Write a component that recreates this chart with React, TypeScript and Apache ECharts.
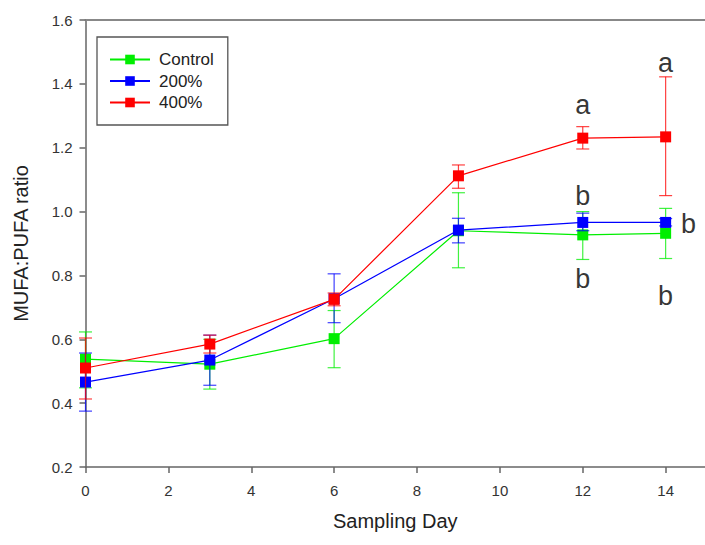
import React, { useEffect, useRef } from "react";
import * as echarts from "echarts";

const days = [0, 3, 6, 9, 12, 14];

const controlMean = [0.538, 0.522, 0.602, 0.94, 0.927, 0.932];
const controlLow = [0.448, 0.444, 0.511, 0.824, 0.85, 0.853];
const controlHigh = [0.623, 0.6, 0.69, 1.059, 1.0, 1.01];

const p200Mean = [0.466, 0.535, 0.727, 0.942, 0.966, 0.966];
const p200Low = [0.375, 0.456, 0.652, 0.902, 0.94, 0.955];
const p200High = [0.557, 0.613, 0.805, 0.979, 0.995, 0.978];

const p400Mean = [0.51, 0.585, 0.725, 1.112, 1.23, 1.234];
const p400Low = [0.413, 0.557, 0.705, 1.073, 1.196, 1.05];
const p400High = [0.604, 0.613, 0.745, 1.146, 1.266, 1.422];

const letterX = [12, 14, 12, 14.55, 12, 14];
const letterY = [1.334, 1.465, 1.05, 0.962, 0.79, 0.735];
const letterText = ["a", "a", "b", "b", "b", "b"];

const yTicks = [0.2, 0.4, 0.6, 0.8, 1.0, 1.2, 1.4, 1.6];
const xTicks = [0, 2, 4, 6, 8, 10, 12, 14];

const FONT = "Liberation Sans, Arial, sans-serif";

const seriesDefs = [
  { name: "Control", color: "#00ee00", mean: controlMean, low: controlLow, high: controlHigh },
  { name: "200%", color: "#0000ff", mean: p200Mean, low: p200Low, high: p200High },
  { name: "400%", color: "#ff0000", mean: p400Mean, low: p400Low, high: p400High },
];

function errorBarSeries(def: typeof seriesDefs[number], z: number) {
  return {
    type: "custom",
    name: def.name + " err",
    z,
    silent: true,
    data: days.map((d, i) => [d, def.low[i], def.high[i]]),
    renderItem: (params: any, api: any) => {
      const x = api.value(0);
      const lo = api.coord([x, api.value(1)]);
      const hi = api.coord([x, api.value(2)]);
      const half = 6.5;
      const style = { stroke: def.color, lineWidth: 1.2, opacity: 0.75 };
      return {
        type: "group",
        children: [
          { type: "line", shape: { x1: lo[0], y1: lo[1], x2: hi[0], y2: hi[1] }, style },
          { type: "line", shape: { x1: lo[0] - half, y1: lo[1], x2: lo[0] + half, y2: lo[1] }, style },
          { type: "line", shape: { x1: hi[0] - half, y1: hi[1], x2: hi[0] + half, y2: hi[1] }, style },
        ],
      };
    },
  };
}

export default function App() {
  const ref = useRef<HTMLDivElement>(null);
  useEffect(() => {
    if (!ref.current) return;
    const chart = echarts.init(ref.current, null, { renderer: "svg" });
    const axisColor = "#666";
    const labelColor = "#333";
    const series: any[] = [];
    seriesDefs.forEach((def, k) => {
      series.push(errorBarSeries(def, 2 + k * 2));
      series.push({
        type: "line",
        name: def.name,
        z: 3 + k * 2,
        data: days.map((d, i) => [d, def.mean[i]]),
        symbol: "rect",
        symbolSize: 11,
        showAllSymbol: true,
        lineStyle: { color: def.color, width: 1.2 },
        itemStyle: { color: def.color },
      });
    });
    series.push({
      type: "scatter",
      name: "letters",
      z: 20,
      symbolSize: 0,
      silent: true,
      data: letterX.map((x, i) => ({ value: [x, letterY[i]], name: letterText[i] })),
      label: {
        show: true,
        position: "inside",
        formatter: "{b}",
        fontSize: 27,
        fontFamily: FONT,
        color: "#000",
      },
    });

    chart.setOption({
      animation: false,
      backgroundColor: "#fff",
      grid: { left: 85.5, right: 0, top: 20, bottom: 78, containLabel: false },
      legend: {
        orient: "vertical",
        left: 97,
        top: 37,
        data: seriesDefs.map((d) => d.name),
        itemWidth: 40,
        itemHeight: 12,
        itemGap: 4.5,
        padding: [14, 14, 14, 12],
        borderColor: "#555",
        borderWidth: 1.3,
        textStyle: {
          fontSize: 17,
          fontFamily: FONT,
          color: "#222",
          padding: [0, 0, 0, 4],
        },
      },
      xAxis: [
        {
          type: "value",
          min: 0,
          max: 14.95,
          interval: 2,
          name: "Sampling Day",
          nameLocation: "middle",
          nameGap: 44,
          nameTextStyle: { fontSize: 20, fontFamily: FONT, color: "#222" },
          axisLine: { show: true, lineStyle: { color: axisColor, width: 1.5 } },
          axisTick: { show: true, length: 6, lineStyle: { color: axisColor, width: 1.5 } },
          splitLine: { show: false },
          axisLabel: {
            showMaxLabel: false,
            margin: 16,
            fontSize: 15,
            fontFamily: FONT,
            color: labelColor,
            formatter: (v: number) => (xTicks.indexOf(v) >= 0 ? String(v) : ""),
          },
        },
        {
          type: "value",
          position: "top",
          min: 0,
          max: 14.95,
          interval: 2,
          axisLine: { show: true, onZero: false, lineStyle: { color: "#888", width: 2 } },
          axisTick: { show: false },
          axisLabel: { show: false },
          splitLine: { show: false },
        },
      ],
      yAxis: {
        type: "value",
        min: 0.2,
        max: 1.6,
        interval: 0.2,
        name: "MUFA:PUFA ratio",
        nameLocation: "middle",
        nameGap: 55,
        nameTextStyle: { fontSize: 20, fontFamily: FONT, color: "#222" },
        axisLine: { show: true, onZero: false, lineStyle: { color: axisColor, width: 1.5 } },
        axisTick: { show: true, length: 6, lineStyle: { color: axisColor, width: 1.5 } },
        splitLine: { show: false },
        axisLabel: {
          margin: 13,
          fontSize: 15,
          fontFamily: FONT,
          color: labelColor,
          formatter: (v: number) => {
            const t = yTicks.find((y) => Math.abs(y - v) < 1e-6);
            return t !== undefined ? t.toFixed(1) : "";
          },
        },
      },
      series,
    });
    return () => chart.dispose();
  }, []);
  return (
    <div
      ref={ref}
      style={{ position: "fixed", left: 0, top: 0, width: 705, height: 545, background: "#fff" }}
    />
  );
}
